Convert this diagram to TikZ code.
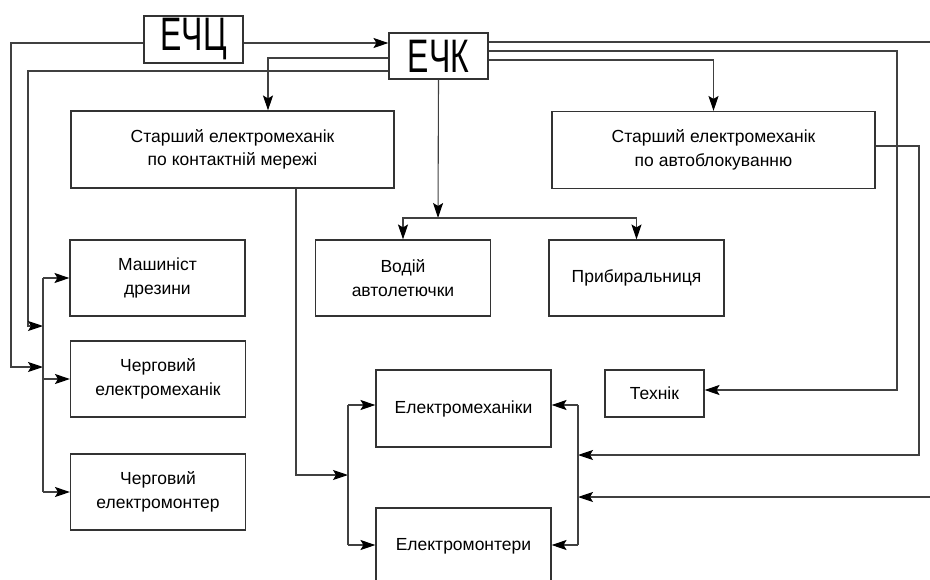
\documentclass[tikz,border=0pt]{standalone}
\usepackage{fontspec}
\setmainfont{Liberation Sans}
\usepackage{tikz}
\usetikzlibrary{arrows.meta,positioning}

\begin{document}
\begin{tikzpicture}[
  x=1pt,y=-1pt,
  box/.style={draw=black!80,line width=1.1pt,minimum width=175pt,minimum height=76pt,align=center,
    font=\fontsize{17.5}{23.5}\selectfont,inner sep=2pt},
  wide/.style={box,minimum width=323pt,minimum height=77pt},
  small/.style={box,minimum width=99pt,minimum height=47pt},
  chief/.style={small,font=\fontsize{47}{47}\selectfont,inner sep=0pt},
  line/.style={draw=black!75,line width=1.1pt},
  arr/.style={line,-{Stealth[length=15pt,width=10pt,inset=3pt,color=black]}}
]
  \useasboundingbox (0,0) rectangle (930,579);

  \node[chief] (ecc) at (193.5,39.5) {\scalebox{0.68}[1]{ЕЧЦ}};
  \node[chief,minimum height=46pt] (eck) at (438.5,56) {\scalebox{0.68}[1]{ЕЧК}};

  \node[wide] (srcont) at (232.5,149.5) {Старший електромеханік\\по контактній мережі};
  \node[wide] (srblock) at (713.5,150) {Старший електромеханік\\по автоблокуванню};

  \node[box] (driver) at (403,278) {Водій\\автолетючки};
  \node[box] (cleaner) at (636.5,278) {Прибиральниця};

  \node[box] (mach) at (157.5,278) {Машиніст\\дрезини};
  \node[box] (dutymech) at (158,379) {Черговий\\електромеханік};
  \node[box] (dutymont) at (158,492) {Черговий\\електромонтер};

  \node[small] (tech) at (654.5,393.5) {Технік};
  \node[box,minimum height=77pt] (mechs) at (463.5,408.5) {Електромеханіки};
  \node[box,minimum height=77pt] (monts) at (463.5,546.5) {Електромонтери};

  % шини
  \coordinate (busl) at (43,0);
  \coordinate (busm) at (348,0);
  \coordinate (busr) at (578,0);
  \coordinate (split) at (438,218);

  % ЕЧЦ
  \draw[arr] ([yshift=-3.5pt]ecc.east) -- ([yshift=-3.5pt]ecc.east -| eck.west);
  \draw[arr] ([yshift=-3.5pt]ecc.west) -| (11,367) -- (busl |- 0,367);

  % ЕЧК
  \draw[arr] ([yshift=-2pt]eck.west) -| (268,0 |- srcont.north);
  \draw[arr] ([yshift=-15pt]eck.west) -| (28,326) -- (busl |- 0,326);
  \draw[arr] (eck.south) -- (split);
  \draw[arr] (split) -| (driver.north);
  \draw[arr] (split) -| (cleaner.north);
  \draw[arr] ([yshift=-4pt]eck.east) -| (srblock.north);
  \draw[arr] ([yshift=5pt]eck.east) -| (897,390) -- (tech.east |- 0,390);
  \draw[arr] ([yshift=14pt]eck.east) -- (933,42) -- (933,497) -- (busr |- 0,497);

  \draw[arr] ([yshift=4pt]srblock.east) -| (919,455) -- (busr |- 0,455);
  \draw[arr] ([xshift=63.5pt]srcont.south) |- (busm |- 0,475);

  % ліва шина
  \draw[line] (busl |- mach.west) -- (busl |- dutymont.west);
  \draw[arr] (busl |- mach.west) -- (mach.west);
  \draw[arr] (busl |- dutymech.west) -- (dutymech.west);
  \draw[arr] (busl |- dutymont.west) -- (dutymont.west);

  % шини біля електромеханіків
  \draw[line] (busm |- 0,405) -- (busm |- 0,545);
  \draw[arr] (busm |- 0,405) -- (mechs.west |- 0,405);
  \draw[arr] (busm |- 0,545) -- (monts.west |- 0,545);
  \draw[line] (busr |- 0,405) -- (busr |- 0,545);
  \draw[arr] (busr |- 0,405) -- (mechs.east |- 0,405);
  \draw[arr] (busr |- 0,545) -- (monts.east |- 0,545);
\end{tikzpicture}
\end{document}
